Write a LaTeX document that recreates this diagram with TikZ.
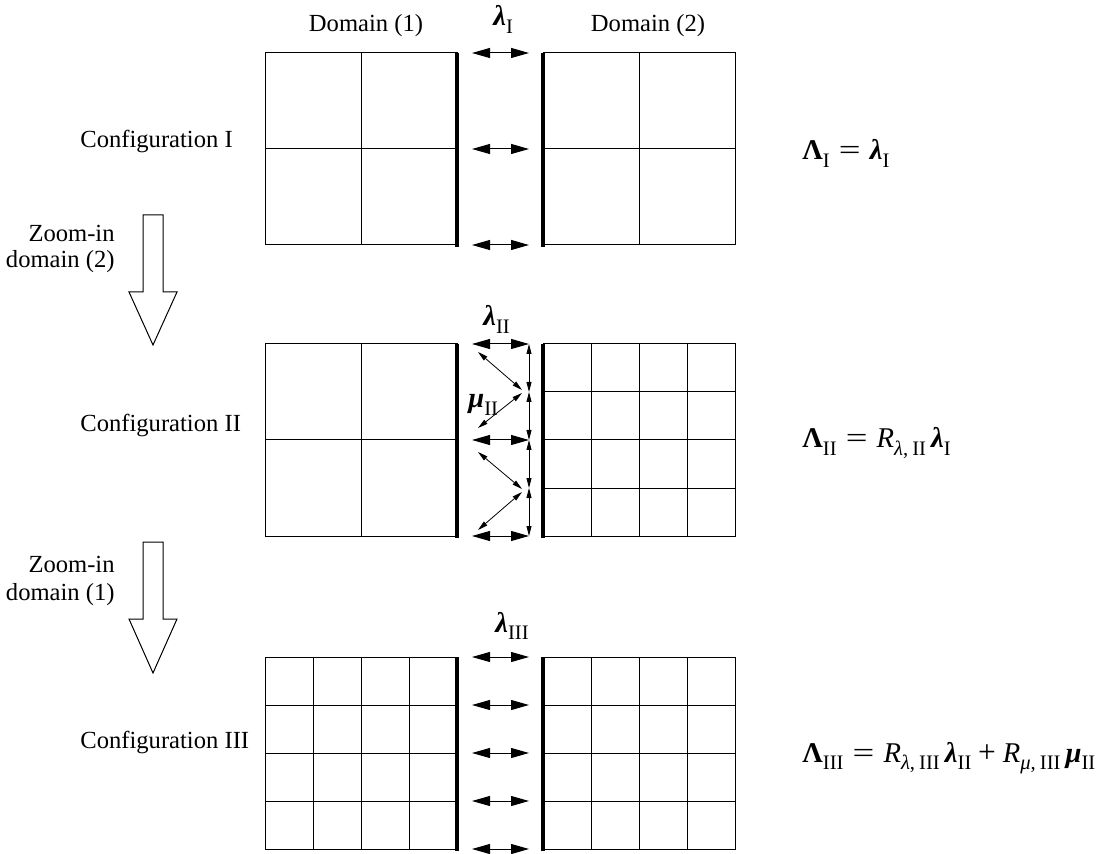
\documentclass[tikz,border=0pt]{standalone}
\usepackage{fontspec}
\setmainfont{Liberation Serif}
\usetikzlibrary{arrows.meta}
\newcommand\Lb{{\bfseries Λ}}
\newcommand\lb{{\bfseries\itshape λ}}
\newcommand\mb{{\bfseries\itshape μ}}
\newcommand\sbs[1]{\raisebox{-0.26em}{\fontsize{10.3}{10}\selectfont #1}}
\newcommand\rsub[1]{\textit{R}\sbs{\textit{#1},\hspace{0.2em}III}\hspace{0.18em}}
\newcommand\eqs{\hspace{0.32em}\scalebox{1.35}[1]{=}\hspace{0.32em}}
\newcommand\pls{\hspace{0.24em}\scalebox{1.1}[1.1]{+}\hspace{0.24em}}
\newcommand\eqfont{\fontsize{14.3}{16}\selectfont}
\tikzset{
  box/.style={draw, line width=0.5pt, minimum width=96pt, minimum height=96pt, inner sep=0pt, outer sep=0pt},
  gl/.style={line width=0.5pt},
  iface/.style={line width=2pt},
  dbl/.style={line width=0.5pt, <->, >={Triangle[length=9pt,width=5pt]}},
  sm/.style={line width=0.4pt, <->, >={Triangle[length=5pt,width=2.5pt]}},
  lab/.style={inner sep=0pt, anchor=base west},
  labr/.style={inner sep=0pt, anchor=base east},
  mlab/.style={inner sep=0pt, anchor=base west, font=\eqfont},
  bigarrow/.style={draw, line width=0.5pt, fill=white, line join=miter}
}
\begin{document}
\begin{tikzpicture}[x=0.5pt, y=-0.5pt, font=\fontsize{12.3}{14}\selectfont]
\useasboundingbox (0,0) rectangle (1111,854);

% ---------- Configuration I ----------
\node[box] (c1L) at (361,149) {};
\node[box] (c1R) at (639,149) {};
\draw[gl] (c1L.north) -- (c1L.south) (c1L.west) -- (c1L.east);
\draw[gl] (c1R.north) -- (c1R.south) (c1R.west) -- (c1R.east);
\draw[iface] (c1L.north east) -- ([yshift=-1pt]c1L.south east);
\draw[iface] (c1R.north west) -- ([yshift=-1pt]c1R.south west);
\foreach \y [count=\i] in {53,149,245}{
  \coordinate (a1l\i) at (472,\y);
  \coordinate (a1r\i) at (529,\y);
  \draw[dbl] (a1l\i) -- (a1r\i);
}

% ---------- Configuration II ----------
\node[box] (c2L) at (361,440) {};
\node[box] (c2R) at (639,440) {};
\draw[gl] (c2L.north) -- (c2L.south) (c2L.west) -- (c2L.east);
\foreach \t in {48,96,144}{
  \draw[gl] ([xshift=\t*0.5pt]c2R.north west) -- ([xshift=\t*0.5pt]c2R.south west);
  \draw[gl] ([yshift=-\t*0.5pt]c2R.north west) -- ([yshift=-\t*0.5pt]c2R.north east);
}
\draw[iface] (c2L.north east) -- ([yshift=-1pt]c2L.south east);
\draw[iface] (c2R.north west) -- ([yshift=-1pt]c2R.south west);
\foreach \y [count=\i] in {344,440,536}{
  \coordinate (a2l\i) at (472,\y);
  \coordinate (a2r\i) at (529,\y);
  \draw[dbl] (a2l\i) -- (a2r\i);
}
\foreach \y [count=\i] in {344,392,440,488,536}{
  \coordinate (v\i) at (529,\y);
}
\draw[sm] (v1) -- (v2);
\draw[sm] (v2) -- (v3);
\draw[sm] (v3) -- (v4);
\draw[sm] (v4) -- (v5);
\coordinate (d1a) at (478,352); \coordinate (d1b) at (522,390);
\coordinate (d2a) at (522,393); \coordinate (d2b) at (478,428);
\coordinate (d3a) at (478,452); \coordinate (d3b) at (522,489);
\coordinate (d4a) at (522,492); \coordinate (d4b) at (478,530);
\draw[sm] (d1a) -- (d1b);
\draw[sm] (d2a) -- (d2b);
\draw[sm] (d3a) -- (d3b);
\draw[sm] (d4a) -- (d4b);

% ---------- Configuration III ----------
\node[box] (c3L) at (361,753) {};
\node[box] (c3R) at (639,753) {};
\foreach \t in {48,96,144}{
  \draw[gl] ([xshift=\t*0.5pt]c3L.north west) -- ([xshift=\t*0.5pt]c3L.south west);
  \draw[gl] ([yshift=-\t*0.5pt]c3L.north west) -- ([yshift=-\t*0.5pt]c3L.north east);
  \draw[gl] ([xshift=\t*0.5pt]c3R.north west) -- ([xshift=\t*0.5pt]c3R.south west);
  \draw[gl] ([yshift=-\t*0.5pt]c3R.north west) -- ([yshift=-\t*0.5pt]c3R.north east);
}
\draw[iface] (c3L.north east) -- ([yshift=-1pt]c3L.south east);
\draw[iface] (c3R.north west) -- ([yshift=-1pt]c3R.south west);
\foreach \y [count=\i] in {657,705,753,801,849}{
  \coordinate (a3l\i) at (472,\y);
  \coordinate (a3r\i) at (529,\y);
  \draw[dbl] (a3l\i) -- (a3r\i);
}

% ---------- Big arrows ----------
\draw[bigarrow] (143,215) -- (163,215) -- (163,292) -- (177,292) -- (153,345) -- (129,292) -- (143,292) -- cycle;
\draw[bigarrow] (143,542) -- (163,542) -- (163,619) -- (177,619) -- (153,673) -- (129,619) -- (143,619) -- cycle;

% ---------- Labels ----------
\node[inner sep=0pt, anchor=base] (dom1) at (366,32) {Domain (1)};
\node[inner sep=0pt, anchor=base] (dom2) at (648,32) {Domain (2)};
\node[mlab] (l1) at (493,26) {\lb\sbs{I}};
\node[mlab] (l2) at (483,326) {\lb\sbs{II}};
\node[mlab] (l3) at (495,632) {\lb\sbs{III}};
\node[mlab] (m2) at (468,408) {\mb\sbs{II}};

\node[lab] (cf1) at (80,148) {Configuration I};
\node[lab] (cf2) at (80,432) {Configuration II};
\node[lab] (cf3) at (80,748) {Configuration III};

\node[labr] (z1a) at (115,242) {Zoom-in};
\node[labr] (z1b) at (115,268) {domain (2)};
\node[labr] (z2a) at (115,572) {Zoom-in};
\node[labr] (z2b) at (115,600) {domain (1)};

\node[mlab] (e1) at (802,160) {\Lb\sbs{I}\eqs\lb\sbs{I}};
\node[mlab] (e2) at (802,448) {\Lb\sbs{II}\eqs\textit{R}\sbs{\textit{λ},\hspace{0.2em}II}\hspace{0.18em}\lb\sbs{I}};
\node[mlab] (e3) at (802,762) {\Lb\sbs{III}\eqs\rsub{λ}\lb\sbs{II}\pls\rsub{μ}\mb\sbs{II}};
\end{tikzpicture}
\end{document}
